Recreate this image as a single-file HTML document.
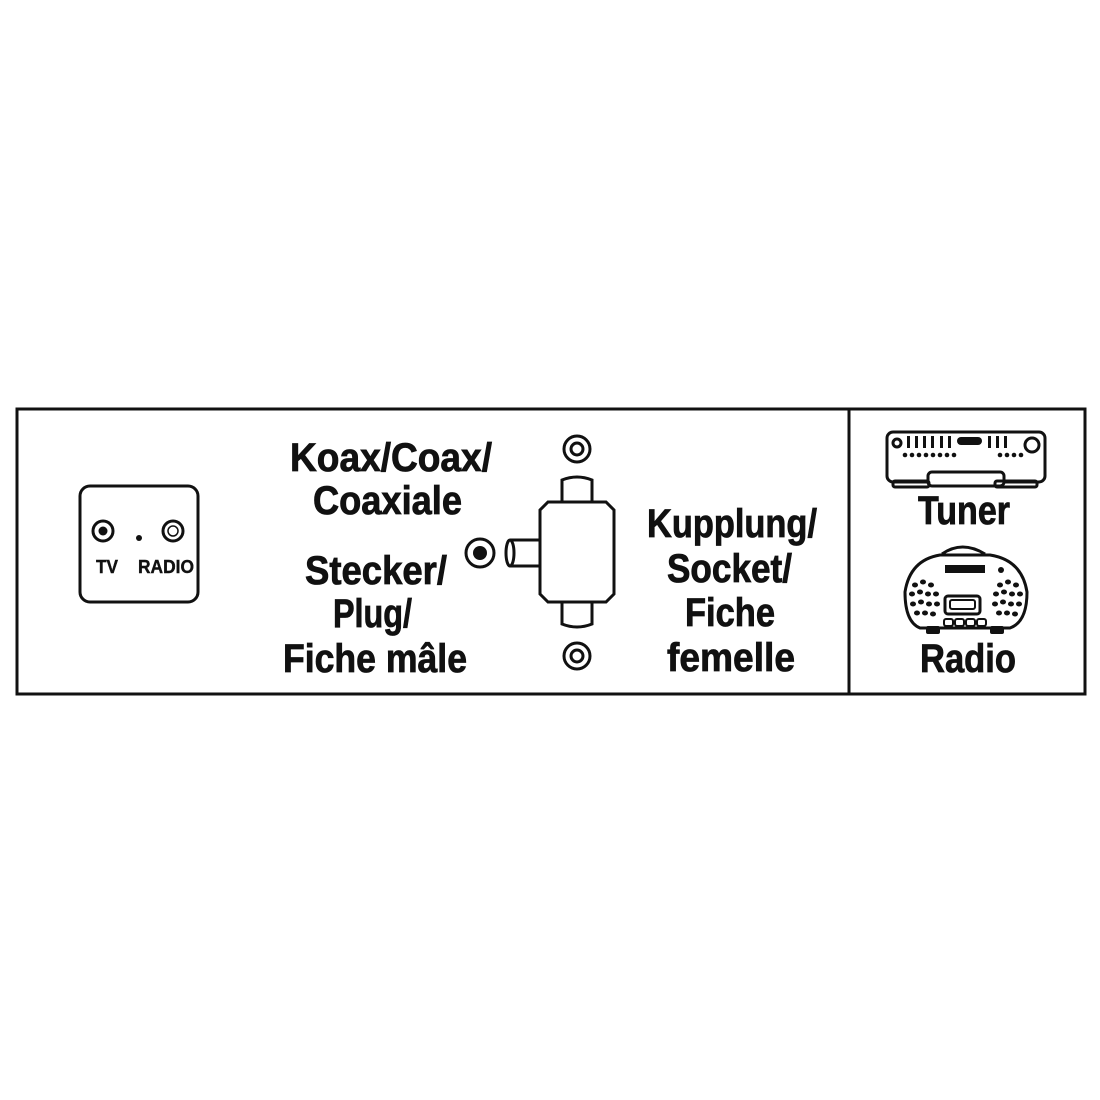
<!DOCTYPE html>
<html><head><meta charset="utf-8"><style>
html,body{margin:0;padding:0;background:#fff;}
svg{display:block}
text{font-family:"Liberation Sans Narrow","Liberation Sans",sans-serif;font-weight:bold;fill:#111}
.big text{stroke:#111;stroke-width:0.8}
</style></head><body>
<svg width="1100" height="1100" viewBox="0 0 1100 1100" xmlns="http://www.w3.org/2000/svg">
<g fill="none" stroke="#111" stroke-width="3">
<rect x="17" y="409" width="1068" height="285"/>
<line x1="849" y1="409" x2="849" y2="694"/>
<rect x="80" y="486" width="118" height="116" rx="10"/>
<circle cx="103" cy="531" r="10"/>
<circle cx="173" cy="531" r="10"/>
<circle cx="173" cy="531" r="5" stroke-width="1.5"/>
<circle cx="577" cy="449" r="13"/>
<circle cx="577" cy="449" r="6"/>
<circle cx="577" cy="656" r="13"/>
<circle cx="577" cy="656" r="6"/>
<circle cx="480" cy="553" r="14"/>
<path d="M548,502 L606,502 L614,510 L614,594 L606,602 L548,602 L540,594 L540,510 Z" fill="#fff"/>
<path d="M562,502 L562,480 Q577,474 592,480 L592,502"/>
<path d="M562,602 L562,624 Q577,630 592,624 L592,602"/>
<path d="M540,540 L510,540 M540,566 L510,566"/>
<ellipse cx="510" cy="553" rx="4" ry="13"/>
<rect x="887" y="432" width="158" height="50" rx="6"/>
<rect x="928" y="472" width="76" height="14" rx="4" fill="#fff"/>
<rect x="893" y="481" width="36" height="6" rx="2"/>
<rect x="995" y="481" width="42" height="6" rx="2"/>
<circle cx="897" cy="443" r="4"/>
<circle cx="1032" cy="445" r="7"/>
<path d="M942,554 Q962,540 985,554"/>
<path d="M905,592 Q910,560 940,555 L990,555 Q1022,560 1027,592 Q1027,622 1010,628 L920,628 Q905,622 905,592 Z"/>
<rect x="945" y="596" width="35" height="18" rx="3"/>
<rect x="950" y="600" width="25" height="9" rx="2" stroke-width="2"/>
</g>
<g fill="#111">
<circle cx="103" cy="531" r="4.5"/>
<circle cx="139" cy="538" r="3"/>
<circle cx="480" cy="553" r="7"/>
<rect x="907" y="436" width="3" height="12"/><rect x="915" y="436" width="3" height="12"/><rect x="923" y="436" width="3" height="12"/><rect x="931" y="436" width="3" height="12"/><rect x="940" y="436" width="3" height="12"/><rect x="948" y="436" width="3" height="12"/>
<rect x="957" y="437" width="25" height="8" rx="4"/>
<rect x="988" y="436" width="3" height="12"/><rect x="996" y="436" width="3" height="12"/><rect x="1004" y="436" width="3" height="12"/>
<g>
<circle cx="905" cy="455" r="2.3"/><circle cx="912" cy="455" r="2.3"/><circle cx="919" cy="455" r="2.3"/><circle cx="926" cy="455" r="2.3"/><circle cx="933" cy="455" r="2.3"/><circle cx="940" cy="455" r="2.3"/><circle cx="947" cy="455" r="2.3"/><circle cx="954" cy="455" r="2.3"/>
<circle cx="1000" cy="455" r="2.3"/><circle cx="1007" cy="455" r="2.3"/><circle cx="1014" cy="455" r="2.3"/><circle cx="1021" cy="455" r="2.3"/>
</g>
<rect x="945" y="565" width="40" height="8"/>
<circle cx="1001" cy="570" r="3"/>
<g>
<ellipse cx="915" cy="585" rx="3" ry="2.5"/><ellipse cx="923" cy="582" rx="3" ry="2.5"/><ellipse cx="931" cy="585" rx="3" ry="2.5"/>
<ellipse cx="912" cy="594" rx="3" ry="2.5"/><ellipse cx="920" cy="592" rx="3" ry="2.5"/><ellipse cx="928" cy="594" rx="3" ry="2.5"/><ellipse cx="936" cy="594" rx="3" ry="2.5"/>
<ellipse cx="913" cy="604" rx="3" ry="2.5"/><ellipse cx="921" cy="602" rx="3" ry="2.5"/><ellipse cx="929" cy="604" rx="3" ry="2.5"/><ellipse cx="937" cy="604" rx="3" ry="2.5"/>
<ellipse cx="917" cy="613" rx="3" ry="2.5"/><ellipse cx="925" cy="613" rx="3" ry="2.5"/><ellipse cx="933" cy="614" rx="3" ry="2.5"/>
<ellipse cx="1000" cy="585" rx="3" ry="2.5"/><ellipse cx="1008" cy="582" rx="3" ry="2.5"/><ellipse cx="1016" cy="585" rx="3" ry="2.5"/>
<ellipse cx="996" cy="594" rx="3" ry="2.5"/><ellipse cx="1004" cy="592" rx="3" ry="2.5"/><ellipse cx="1012" cy="594" rx="3" ry="2.5"/><ellipse cx="1020" cy="594" rx="3" ry="2.5"/>
<ellipse cx="995" cy="604" rx="3" ry="2.5"/><ellipse cx="1003" cy="602" rx="3" ry="2.5"/><ellipse cx="1011" cy="604" rx="3" ry="2.5"/><ellipse cx="1019" cy="604" rx="3" ry="2.5"/>
<ellipse cx="999" cy="613" rx="3" ry="2.5"/><ellipse cx="1007" cy="613" rx="3" ry="2.5"/><ellipse cx="1015" cy="614" rx="3" ry="2.5"/>
</g>
<rect x="926" y="626" width="14" height="8" rx="2"/><rect x="990" y="626" width="14" height="8" rx="2"/>
</g>
<g fill="none" stroke="#111" stroke-width="2">
<rect x="944" y="619" width="9" height="7" rx="2"/><rect x="955" y="619" width="9" height="7" rx="2"/><rect x="966" y="619" width="9" height="7" rx="2"/><rect x="977" y="619" width="9" height="7" rx="2"/>
</g>
<text x="96" y="573" font-size="18" textLength="22" lengthAdjust="spacingAndGlyphs" stroke="#111" stroke-width="0.4">TV</text>
<text x="138" y="573" font-size="18" textLength="56" lengthAdjust="spacingAndGlyphs" stroke="#111" stroke-width="0.4">RADIO</text>
<g font-size="40" class="big">
<text x="290" y="471" textLength="202" lengthAdjust="spacingAndGlyphs">Koax/Coax/</text>
<text x="313" y="514" textLength="149" lengthAdjust="spacingAndGlyphs">Coaxiale</text>
<text x="305" y="584" textLength="142" lengthAdjust="spacingAndGlyphs">Stecker/</text>
<text x="333" y="627" textLength="79" lengthAdjust="spacingAndGlyphs">Plug/</text>
<text x="283" y="672" textLength="184" lengthAdjust="spacingAndGlyphs">Fiche mâle</text>
<text x="647" y="537" textLength="170" lengthAdjust="spacingAndGlyphs">Kupplung/</text>
<text x="667" y="582" textLength="125" lengthAdjust="spacingAndGlyphs">Socket/</text>
<text x="685" y="626" textLength="90" lengthAdjust="spacingAndGlyphs">Fiche</text>
<text x="667" y="671" textLength="128" lengthAdjust="spacingAndGlyphs">femelle</text>
<text x="918" y="524" textLength="92" lengthAdjust="spacingAndGlyphs">Tuner</text>
<text x="920" y="672" textLength="96" lengthAdjust="spacingAndGlyphs">Radio</text>
</g>
</svg>
</body></html>
